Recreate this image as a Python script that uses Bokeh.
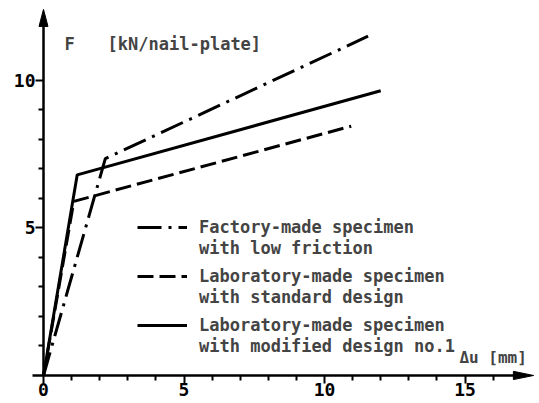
from bokeh.plotting import figure
from bokeh.models import Range1d, FixedTicker, Legend, LegendItem, Label
from bokeh.embed import file_html
from bokeh.resources import INLINE

# ---- data ----
factory_x = [0, 2.2, 11.55]
factory_y = [0, 7.35, 11.5]
standard_x = [0, 1.08, 10.95]
standard_y = [0, 5.9, 8.45]
modified_x = [0, 1.2, 12.0]
modified_y = [0, 6.8, 9.65]

x_major = [0, 5, 10, 15]
x_minor = [1, 2, 3, 4, 6, 7, 8, 9, 11, 12, 13, 14, 16]
y_major = [5, 10]
y_minor = [1, 2, 3, 4, 6, 7, 8, 9]

label_line1 = ["Factory-made specimen",
               "Laboratory-made specimen",
               "Laboratory-made specimen"]
label_line2 = ["with low friction",
               "with standard design",
               "with modified design no.1"]
y_title_sym = "F"
y_title_unit = "[kN/nail-plate]"
x_title = "Δu [mm]"

# axis extents and arrow-head sizes (data units)
X_AXIS_END, Y_AXIS_END = 17.44, 12.41      # arrow tips
X_HEAD_LEN, X_HEAD_HALF = 0.72, 0.14
Y_HEAD_LEN, Y_HEAD_HALF = 0.58, 0.16

FONT = "DejaVu Sans Mono"

p = figure(width=539, height=403, output_backend="svg", toolbar_location=None,
           x_range=Range1d(-1.53, 17.65), y_range=Range1d(-0.95, 12.71),
           min_border=0)
p.outline_line_color = None
p.xgrid.visible = False
p.ygrid.visible = False

for ax in (p.xaxis[0], p.yaxis[0]):
    ax.fixed_location = 0
    ax.axis_line_width = 2.5
    ax.axis_line_color = "black"
    ax.major_tick_line_width = 2
    ax.minor_tick_line_width = 2
    ax.major_tick_line_color = "black"
    ax.minor_tick_line_color = "black"
    ax.major_tick_in = 0
    ax.minor_tick_in = 0
    ax.major_tick_out = 8
    ax.minor_tick_out = 5
    ax.major_label_standoff = 0
    ax.major_label_text_font = FONT
    ax.major_label_text_font_style = "bold"
    ax.major_label_text_font_size = "18px"
    ax.major_label_text_color = "black"

p.xaxis[0].bounds = (-0.4, X_AXIS_END - X_HEAD_LEN + 0.05)
p.yaxis[0].bounds = (0, Y_AXIS_END - Y_HEAD_LEN + 0.05)
p.xaxis[0].ticker = FixedTicker(ticks=x_major, minor_ticks=x_minor)
p.yaxis[0].ticker = FixedTicker(ticks=y_major, minor_ticks=y_minor)

r1 = p.line(factory_x, factory_y, line_width=3, line_color="black", line_dash="24 7 3 7")
r2 = p.line(standard_x, standard_y, line_width=3, line_color="black", line_dash="16 6")
r3 = p.line(modified_x, modified_y, line_width=3, line_color="black")

# arrow heads at the ends of the axes
p.patches(
    xs=[[X_AXIS_END, X_AXIS_END - X_HEAD_LEN, X_AXIS_END - X_HEAD_LEN],
        [0, -Y_HEAD_HALF, Y_HEAD_HALF]],
    ys=[[0, X_HEAD_HALF, -X_HEAD_HALF],
        [Y_AXIS_END, Y_AXIS_END - Y_HEAD_LEN, Y_AXIS_END - Y_HEAD_LEN]],
    fill_color="black", line_color="black", line_width=1)

common = dict(glyph_height=20, spacing=29, padding=0, margin=0,
              border_line_color=None, background_fill_alpha=0,
              label_text_font=FONT, label_text_font_style="bold",
              label_text_font_size="17px")

legend_a = Legend(
    items=[LegendItem(label=label_line1[i], renderers=[r]) for i, r in enumerate([r1, r2, r3])],
    location=(137, 68), glyph_width=50, label_standoff=12, **common)
legend_b = Legend(
    items=[LegendItem(label=label_line2[i], renderers=[r]) for i, r in enumerate([r1, r2, r3])],
    location=(187, 47), glyph_width=0, label_standoff=12, **common)
p.add_layout(legend_a)
p.add_layout(legend_b)

p.add_layout(Label(x=0.75, y=11.25, text=y_title_sym, text_font=FONT,
                   text_font_style="bold", text_font_size="17px", text_baseline="middle"))
p.add_layout(Label(x=2.28, y=11.25, text=y_title_unit, text_font=FONT,
                   text_font_style="bold", text_font_size="17px", text_baseline="middle"))
p.add_layout(Label(x=14.8, y=0.61, text=x_title, text_font=FONT,
                   text_font_style="bold", text_font_size="16px", text_baseline="middle"))

open("out.html", "w").write(file_html(p, INLINE))
